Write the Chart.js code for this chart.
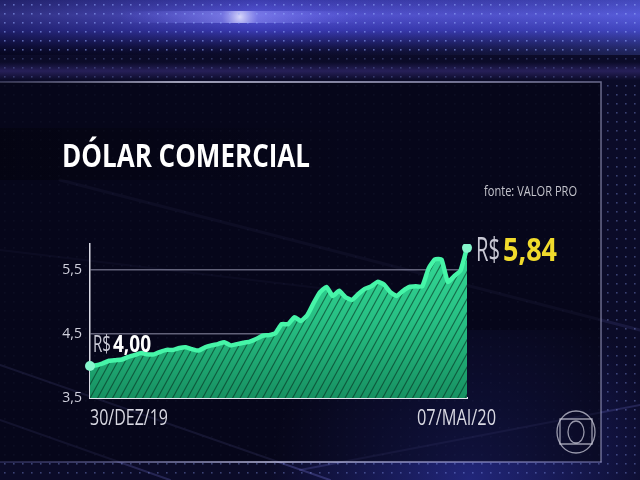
<!DOCTYPE html>
<html>
<head>
<meta charset="utf-8">
<script src="https://cdn.jsdelivr.net/npm/chart.js@4/dist/chart.umd.min.js"></script>
<style>
  html, body { margin: 0; padding: 0; background: #0a0a24; }
  canvas { display: block; }
</style>
</head>
<body>
<canvas id="chart" width="640" height="480"></canvas>
<script>
// Dólar comercial, fechamento diário (R$), 30/dez/19 a 07/mai/20
const dolar = [
  4.00, 4.01, 4.04, 4.08, 4.09, 4.10, 4.14, 4.17, 4.20, 4.18,
  4.18, 4.22, 4.25, 4.25, 4.28, 4.29, 4.26, 4.24, 4.29, 4.32,
  4.34, 4.37, 4.32, 4.34, 4.36, 4.38, 4.42, 4.47, 4.48, 4.51,
  4.65, 4.65, 4.76, 4.70, 4.79, 4.98, 5.15, 5.23, 5.09, 5.17,
  5.07, 5.03, 5.12, 5.20, 5.24, 5.31, 5.27, 5.15, 5.09, 5.17,
  5.23, 5.24, 5.24, 5.52, 5.66, 5.66, 5.31, 5.40, 5.49, 5.84
];
const xTickLabels = ['30/DEZ/19', '07/MAI/20'];
const yTicks = [3.5, 4.5, 5.5];
const titulo = 'DÓLAR COMERCIAL';
const fonte = 'fonte: VALOR PRO';

const last = dolar.length - 1;
const labels = dolar.map((v, i) => i === 0 ? xTickLabels[0] : (i === last ? xTickLabels[1] : ''));
const brl = v => v.toFixed(2).replace('.', ',');

// texto ajustado a uma largura (fonte condensada da arte original)
function fitText(ctx, text, x, y, font, width, color) {
  ctx.save();
  ctx.font = font;
  ctx.fillStyle = color;
  ctx.textBaseline = 'alphabetic';
  ctx.textAlign = 'left';
  const w = ctx.measureText(text).width;
  ctx.translate(x, y);
  ctx.scale(width / w, 1);
  ctx.fillText(text, 0, 0);
  ctx.restore();
}

let fillCache = null;
function hatchFill(chart) {
  const area = chart.chartArea;
  if (!area) return '#27c185';
  if (fillCache) return fillCache;
  const off = document.createElement('canvas');
  off.width = chart.width; off.height = chart.height;
  const o = off.getContext('2d');
  const g = o.createLinearGradient(0, area.top, 0, area.bottom);
  g.addColorStop(0, '#35dc98');
  g.addColorStop(0.5, '#27bf83');
  g.addColorStop(1, '#179162');
  o.fillStyle = g;
  o.fillRect(0, 0, off.width, off.height);
  o.strokeStyle = 'rgba(5,45,30,0.6)';
  o.lineWidth = 1.1;
  for (let k = -off.height; k < off.width; k += 7.5) {
    o.beginPath();
    o.moveTo(k, off.height);
    o.lineTo(k + off.height * 0.55, 0);
    o.stroke();
  }
  fillCache = chart.ctx.createPattern(off, 'no-repeat');
  return fillCache;
}

// fundo da arte de TV
const backdrop = {
  id: 'backdrop',
  beforeDraw(chart) {
    const ctx = chart.ctx;
    const W = chart.width, H = chart.height;
    ctx.save();
    ctx.fillStyle = '#0b0b28';
    ctx.fillRect(0, 0, W, H);

    // faixa azul do topo
    let g = ctx.createLinearGradient(0, 0, 0, 60);
    g.addColorStop(0, '#3c3cae');
    g.addColorStop(0.25, '#5656d6');
    g.addColorStop(0.5, '#3a3ab4');
    g.addColorStop(0.78, '#16164e');
    g.addColorStop(1, 'rgba(8,8,28,0)');
    ctx.fillStyle = g;
    ctx.fillRect(0, 0, W, 60);
    g = ctx.createLinearGradient(0, 0, W, 0);
    g.addColorStop(0, 'rgba(0,0,20,0.45)');
    g.addColorStop(0.4, 'rgba(0,0,20,0)');
    g.addColorStop(1, 'rgba(90,110,230,0.25)');
    ctx.fillStyle = g;
    ctx.fillRect(0, 0, W, 55);
    let r = ctx.createRadialGradient(240, 17, 0, 240, 17, 120);
    r.addColorStop(0, 'rgba(230,230,255,0.9)');
    r.addColorStop(0.15, 'rgba(160,160,255,0.45)');
    r.addColorStop(1, 'rgba(120,120,255,0)');
    ctx.fillStyle = r;
    ctx.beginPath(); ctx.ellipse(240, 17, 300, 6, 0, 0, Math.PI * 2); ctx.fill();

    // segunda faixa roxa
    g = ctx.createLinearGradient(0, 62, 0, 80);
    g.addColorStop(0, 'rgba(90,70,180,0)');
    g.addColorStop(0.5, 'rgba(90,70,180,0.35)');
    g.addColorStop(1, 'rgba(90,70,180,0)');
    ctx.fillStyle = g;
    ctx.fillRect(0, 62, W, 18);

    // brilho azul embaixo à direita
    r = ctx.createRadialGradient(470, 480, 0, 470, 480, 200);
    r.addColorStop(0, 'rgba(60,70,220,0.45)');
    r.addColorStop(1, 'rgba(60,70,220,0)');
    ctx.fillStyle = r;
    ctx.fillRect(250, 330, 390, 150);

    // riscos diagonais
    ctx.lineCap = 'round';
    [[0, 365, 330, 480, 0.28, 2], [0, 420, 170, 480, 0.22, 2], [60, 180, 640, 330, 0.12, 3],
     [0, 250, 420, 300, 0.10, 2], [300, 470, 640, 405, 0.2, 2]].forEach(s => {
      ctx.strokeStyle = 'rgba(130,130,230,' + s[4] + ')';
      ctx.lineWidth = s[5];
      ctx.beginPath(); ctx.moveTo(s[0], s[1]); ctx.lineTo(s[2], s[3]); ctx.stroke();
    });

    // pontos
    for (let y = 4; y < H; y += 9) {
      for (let x = 4; x < W; x += 9) {
        let a = 0.10;
        if (y < 50) a = 0.55;
        else if (y < 82) a = 0.25;
        else if (x > 601 || y > 462) a = 0.35;
        ctx.fillStyle = 'rgba(150,170,255,' + a + ')';
        ctx.fillRect(x, y, 1.6, 1.6);
      }
    }

    // painel
    ctx.fillStyle = 'rgba(3,3,14,0.55)';
    ctx.fillRect(0, 82, 601, 380);
    g = ctx.createLinearGradient(0, 0, 360, 0);
    g.addColorStop(0, 'rgba(0,0,0,0.3)');
    g.addColorStop(1, 'rgba(0,0,0,0)');
    ctx.fillStyle = g;
    ctx.fillRect(0, 128, 360, 52);

    g = ctx.createLinearGradient(0, 0, 601, 0);
    g.addColorStop(0, 'rgba(170,170,210,0.35)');
    g.addColorStop(0.3, 'rgba(230,230,255,0.9)');
    g.addColorStop(0.8, 'rgba(200,200,240,0.7)');
    g.addColorStop(1, 'rgba(170,170,210,0.6)');
    ctx.strokeStyle = g;
    ctx.lineWidth = 1.5;
    ctx.beginPath(); ctx.moveTo(0, 82); ctx.lineTo(601, 82); ctx.lineTo(601, 462); ctx.stroke();
    g = ctx.createLinearGradient(0, 0, 601, 0);
    g.addColorStop(0, 'rgba(120,120,200,0.3)');
    g.addColorStop(0.45, 'rgba(220,220,255,0.85)');
    g.addColorStop(1, 'rgba(160,160,220,0.5)');
    ctx.strokeStyle = g;
    ctx.beginPath(); ctx.moveTo(0, 462); ctx.lineTo(601, 462); ctx.stroke();

    // logo
    ctx.strokeStyle = 'rgba(200,200,215,0.75)';
    ctx.lineWidth = 1.3;
    ctx.beginPath(); ctx.ellipse(576, 432, 19, 21, 0, 0, Math.PI * 2); ctx.stroke();
    ctx.beginPath(); ctx.rect(560, 419, 32, 25); ctx.stroke();
    ctx.beginPath(); ctx.ellipse(576, 432, 8, 11, 0, 0, Math.PI * 2); ctx.stroke();
    ctx.restore();
  }
};

// textos da arte
const legendas = {
  id: 'legendas',
  afterDraw(chart) {
    const ctx = chart.ctx;
    const xs = chart.scales.x, ys = chart.scales.y;
    fitText(ctx, titulo, 62, 167, 'bold 32px "Open Sans"', 248, '#ffffff');
    fitText(ctx, fonte, 484, 196, '15px "Open Sans"', 93, '#c4c4cc');

    const x0 = xs.getPixelForValue(0), y0 = ys.getPixelForValue(dolar[0]);
    fitText(ctx, 'R$', x0 + 3, y0 - 14, '23px "Open Sans"', 18, '#c8c8d4');
    fitText(ctx, brl(dolar[0]), x0 + 23, y0 - 14, 'bold 23px "Open Sans"', 38, '#ffffff');

    const x1 = xs.getPixelForValue(last), y1 = ys.getPixelForValue(dolar[last]);
    fitText(ctx, 'R$', x1 + 9, y1 + 13, '32px "Open Sans"', 24, '#c8c8d4');
    fitText(ctx, brl(dolar[last]), x1 + 36, y1 + 13, 'bold 32px "Open Sans"', 54, '#f0da2c');

    const yb = chart.chartArea.bottom + 27;
    fitText(ctx, xTickLabels[0], x0, yb, '22px "Open Sans"', 78, '#d8d8e2');
    fitText(ctx, xTickLabels[1], x1 - 50, yb, '22px "Open Sans"', 79, '#d8d8e2');
  }
};

new Chart(document.getElementById('chart'), {
  type: 'line',
  data: {
    labels: labels,
    datasets: [{
      label: 'Dólar comercial',
      data: dolar,
      borderColor: '#46f5a8',
      borderWidth: 4.5,
      tension: 0.15,
      fill: 'start',
      backgroundColor: ctx => hatchFill(ctx.chart),
      pointRadius: ctx => (ctx.dataIndex === 0 || ctx.dataIndex === last) ? 5 : 0,
      pointBackgroundColor: '#86f6cc',
      pointBorderWidth: 0
    }]
  },
  options: {
    responsive: false,
    devicePixelRatio: 1,
    animation: false,
    layout: { padding: { top: 244, right: 173, left: 0, bottom: 0 } },
    plugins: { legend: { display: false }, tooltip: { enabled: false } },
    scales: {
      x: {
        grid: { display: false },
        border: { display: true, color: '#e6e6f0', width: 2 },
        ticks: { display: false },
        afterFit: s => { s.height = 82; }
      },
      y: {
        min: 3.5,
        max: 5.9,
        afterBuildTicks: s => { s.ticks = yTicks.map(v => ({ value: v })); },
        ticks: {
          callback: v => v.toFixed(1).replace('.', ','),
          color: '#d0d0dc',
          font: { family: 'Open Sans', size: 14 },
          padding: 8
        },
        grid: {
          color: c => c.tick && c.tick.value === 3.5 ? 'rgba(0,0,0,0)' : 'rgba(190,190,215,0.5)',
          lineWidth: 1.5,
          drawTicks: false
        },
        border: { display: true, color: '#d8d8e2', width: 1.5 },
        afterFit: s => { s.width = 90; }
      }
    }
  },
  plugins: [backdrop, legendas]
});
</script>
</body>
</html>
